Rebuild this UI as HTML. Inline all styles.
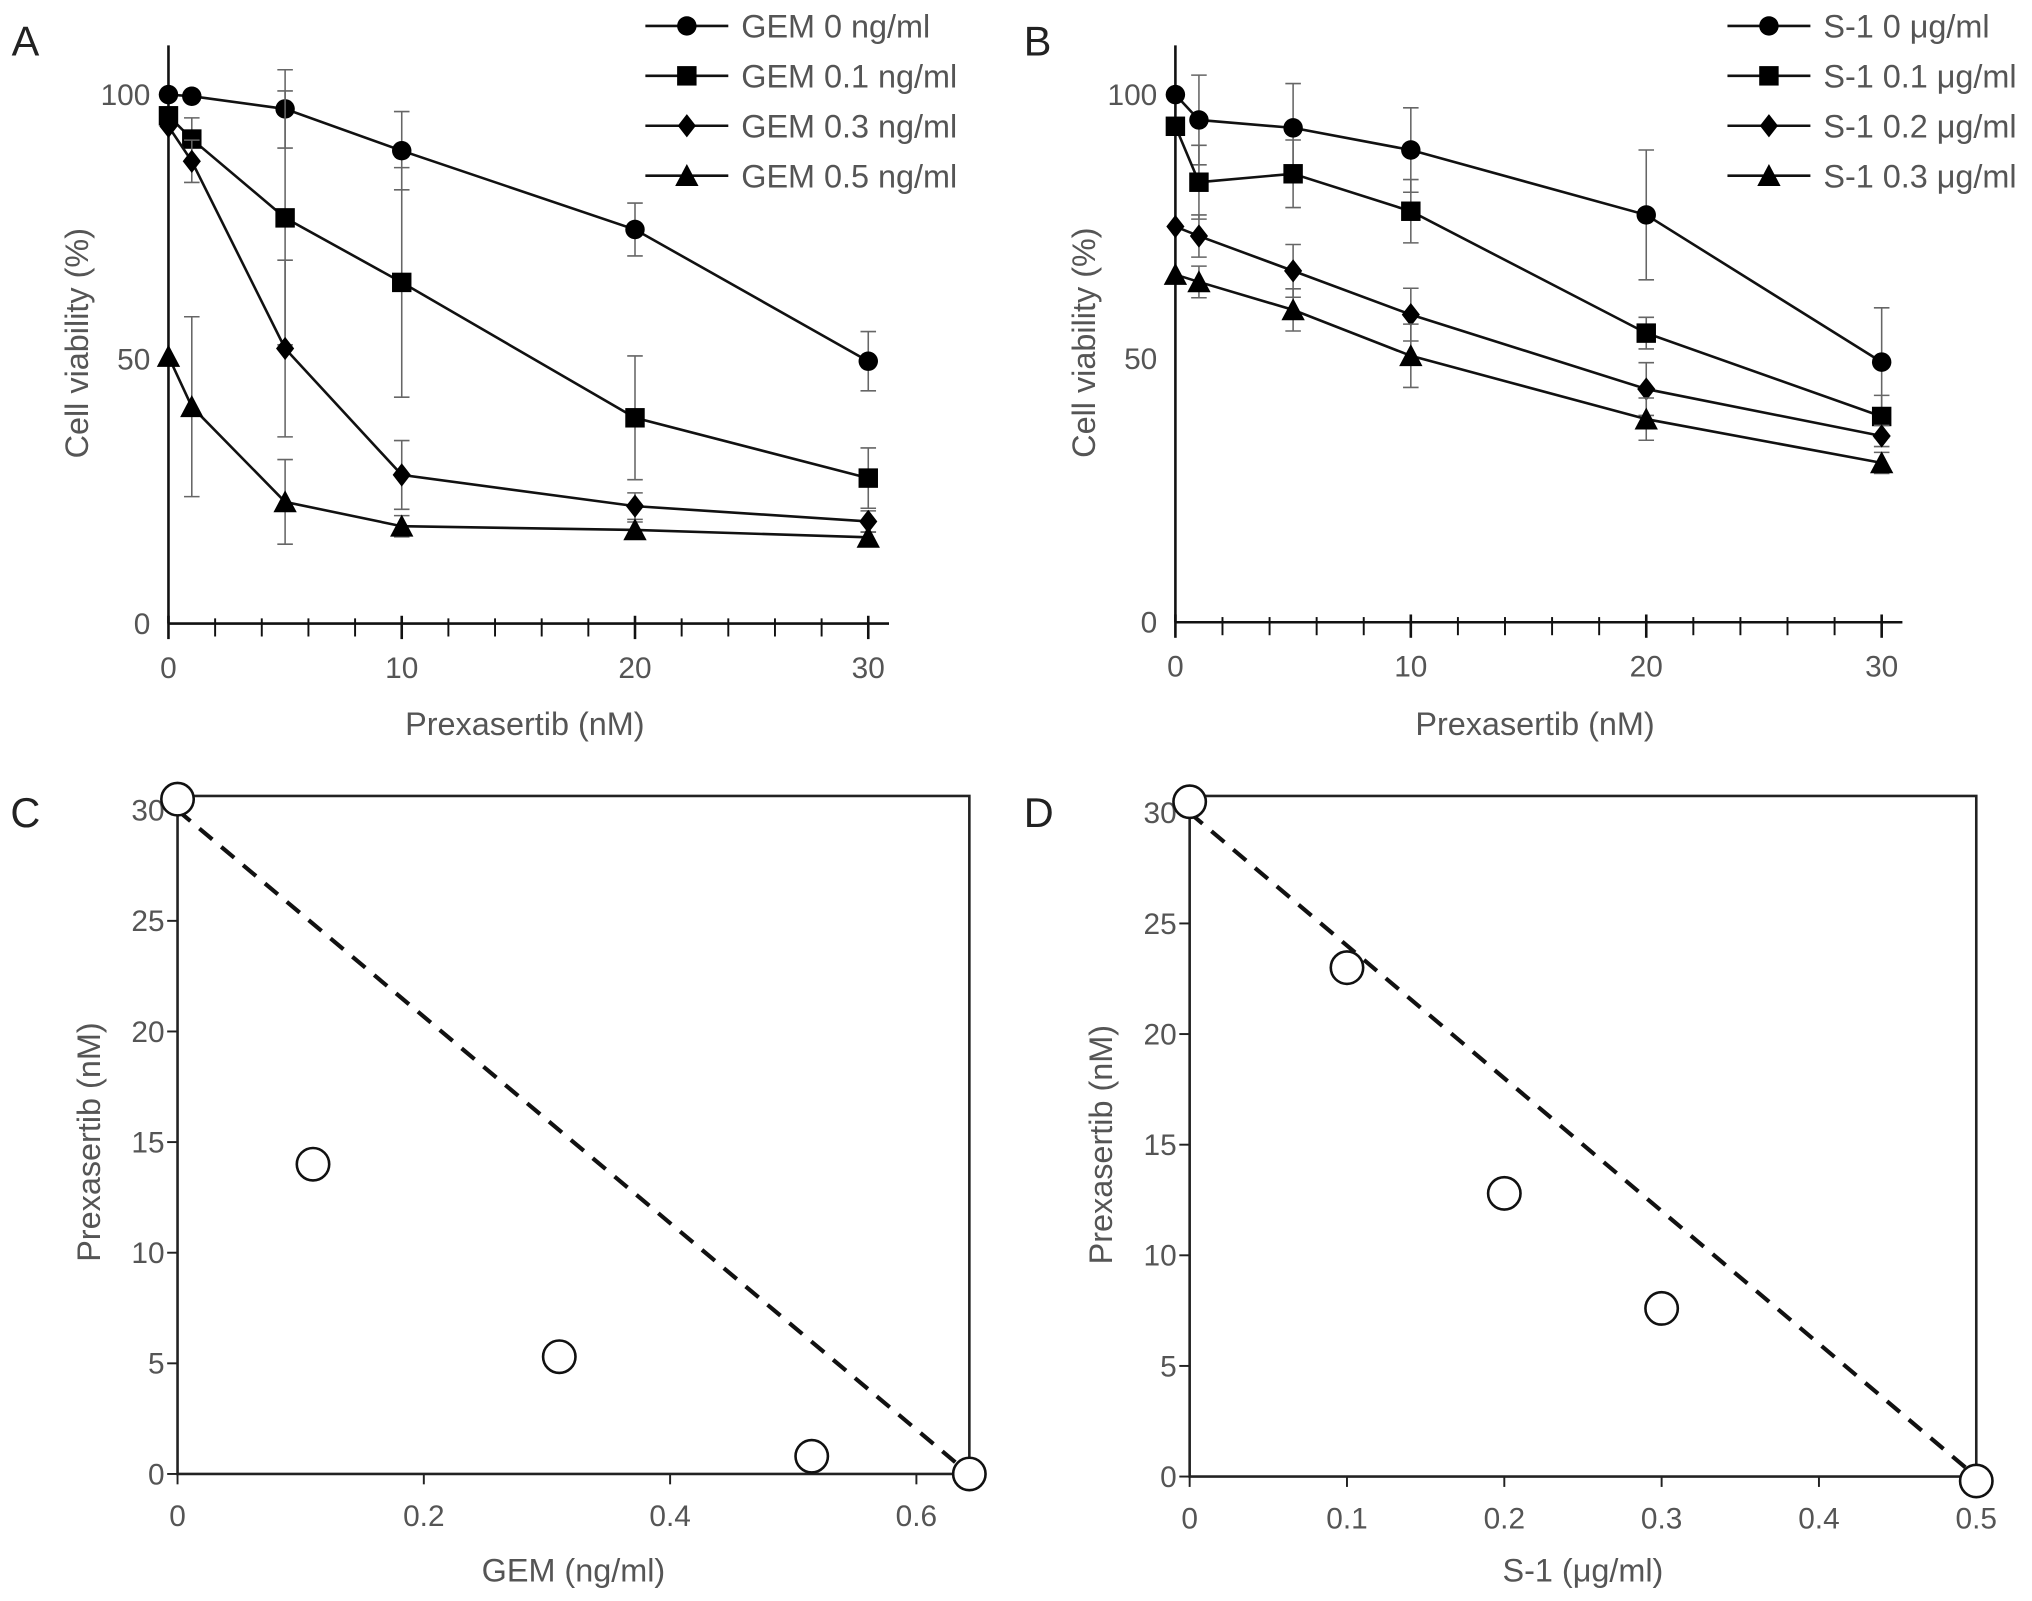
<!DOCTYPE html>
<html><head><meta charset="utf-8"><style>
html,body{margin:0;padding:0;background:#fff;}
svg{display:block;}
text{font-family:"Liberation Sans",sans-serif;}
</style></head><body>
<svg id="fig" width="2032" height="1601" viewBox="0 0 1568 1235" preserveAspectRatio="none" xmlns="http://www.w3.org/2000/svg">
<rect width="1568" height="1235" fill="#fff"/>
<g id="root"></g>
</svg>
<script>
// ---- Panel A data ----
const xDoses = [0, 1, 5, 10, 20, 30];
const gemLabels = ["GEM 0 ng/ml", "GEM 0.1 ng/ml", "GEM 0.3 ng/ml", "GEM 0.5 ng/ml"];
const gem0 = [100, 99.7, 97.3, 89.4, 74.5, 49.6];
const gem0Err = [0, 0, 7.4, 7.4, 5, 5.6];
const gem01 = [96, 91.6, 76.7, 64.5, 38.9, 27.5];
const gem01Err = [0, 4, 24, 21.7, 11.7, 5.7];
const gem03 = [94, 87.4, 52, 28.1, 22.2, 19.3];
const gem03Err = [0, 4, 16.7, 6.5, 2.5, 2];
const gem05 = [50.5, 41, 23, 18.4, 17.7, 16.3];
const gem05Err = [0, 17, 8, 2, 1.5, 1];
// ---- Panel B data ----
const s1Labels = ["S-1 0 \u03bcg/ml", "S-1 0.1 \u03bcg/ml", "S-1 0.2 \u03bcg/ml", "S-1 0.3 \u03bcg/ml"];
const s10 = [100, 95.2, 93.7, 89.5, 77.2, 49.3];
const s10Err = [0, 8.5, 8.4, 8, 12.3, 10.3];
const s101 = [94, 83.4, 85, 77.9, 54.8, 39];
const s101Err = [0, 7, 6.4, 6, 3, 4];
const s102 = [75, 73.2, 66.6, 58.3, 44.2, 35.3];
const s102Err = [0, 4, 5, 5, 5, 2];
const s103 = [65.9, 64.5, 59.2, 50.5, 38.5, 30.2];
const s103Err = [0, 3, 4, 6, 4, 2];
const viabTicks = [0, 50, 100];
const doseTicks = [0, 10, 20, 30];
// ---- Panel C data ----
const gemIso = [0, 0.11, 0.31, 0.515, 0.643];
const prexIsoC = [30.5, 14, 5.3, 0.8, 0];
const gemTicks = [0, 0.2, 0.4, 0.6];
// ---- Panel D data ----
const s1Iso = [0, 0.1, 0.2, 0.3, 0.5];
const prexIsoD = [30.5, 23, 12.8, 7.6, -0.2];
const s1Ticks = [0, 0.1, 0.2, 0.3, 0.4, 0.5];
const prexTicks = [0, 5, 10, 15, 20, 25, 30];

const NS = "http://www.w3.org/2000/svg";
const root = document.getElementById("root");
function mk(tag, attrs, parent) {
  const e = document.createElementNS(NS, tag);
  for (const k in attrs) e.setAttribute(k, attrs[k]);
  (parent || root).appendChild(e);
  return e;
}
function txt(s, x, y, size, fill, anchor, parent, name) {
  const t = mk("text", {x: x, y: y, "font-size": size, fill: fill, "text-anchor": anchor || "middle"}, parent);
  t.textContent = s;
  
  
  return t;
}
function marker(shape, cx, cy, g) {
  let e;
  if (shape === 0) e = mk("circle", {cx: cx, cy: cy, r: 7.5, fill: "#000"}, g);
  else if (shape === 1) e = mk("rect", {x: cx - 7.5, y: cy - 7.5, width: 15, height: 15, fill: "#000"}, g);
  else if (shape === 2) e = mk("polygon", {points: `${cx},${cy-9} ${cx+7},${cy} ${cx},${cy+9} ${cx-7},${cy}`, fill: "#000"}, g);
  else e = mk("polygon", {points: `${cx},${cy-9} ${cx+9},${cy+8} ${cx-9},${cy+8}`, fill: "#000"}, g);
  
  
  return e;
}

function linePanel(opt) {
  const g = mk("g", {});
  
  
  const sx = v => opt.x0 + (v / 30) * (opt.x30 - opt.x0);
  const sy = v => opt.y0 - (v / 100) * (opt.y0 - opt.y100);
  const ya = mk("line", {x1: opt.x0, y1: 35, x2: opt.x0, y2: opt.y0, stroke: "#111", "stroke-width": 2}, g);
  
  
  const xa = mk("line", {x1: opt.x0, y1: opt.y0, x2: opt.x30 + 16, y2: opt.y0, stroke: "#111", "stroke-width": 2}, g);
  
  
  for (let v = 0; v <= 30; v += 2) {
    const t = mk("line", {x1: sx(v), y1: opt.y0 - 4, x2: sx(v), y2: opt.y0 + 10, stroke: "#111", "stroke-width": 1.5}, g);
    
    
  }
  doseTicks.forEach(v => {
    const t = mk("line", {x1: sx(v), y1: opt.y0 - 6, x2: sx(v), y2: opt.y0 + 12, stroke: "#111", "stroke-width": 2}, g);
    
    
    txt(String(v), sx(v), opt.y0 + 42, 23, "#555", "middle", g, "x-tick-label");
  });
  viabTicks.forEach(v => txt(String(v), opt.x0 - 14, sy(v) + 8, 23, "#555", "end", g, "y-tick-label"));
  const yl = txt("Cell viability (%)", 0, 0, 25, "#555", "middle", g, "y-axis-title");
  yl.setAttribute("transform", `translate(${opt.x0 - 62},${sy(53)}) rotate(-90)`);
  txt("Prexasertib (nM)", (opt.x0 + opt.x30) / 2 + 5, 567, 25, "#555", "middle", g, "x-axis-title");
  txt(opt.letter, opt.letterX, 43, 32, "#222", "start", g, "panel-letter");
  opt.series.forEach((s, i) => {
    const sg = mk("g", {}, g);
    
    
    xDoses.forEach((x, j) => {
      const e = s.err[j];
      if (!e) return;
      const cx = sx(x), a = sy(s.v[j] + e), b = sy(s.v[j] - e);
      const eb = mk("path", {d: `M${cx},${a}V${b}M${cx-6},${a}H${cx+6}M${cx-6},${b}H${cx+6}`, stroke: "#666", "stroke-width": 1.2, fill: "none"}, sg);
      
      
    });
    const pts = xDoses.map((x, j) => sx(x) + "," + sy(s.v[j])).join(" ");
    const pl = mk("polyline", {points: pts, fill: "none", stroke: "#111", "stroke-width": 2}, sg);
    
    
    xDoses.forEach((x, j) => marker(i, sx(x), sy(s.v[j]), sg));
    const lg = mk("g", {}, g);
    
    
    const ly = 20 + i * 38.5;
    mk("line", {x1: opt.legX, y1: ly, x2: opt.legX + 64, y2: ly, stroke: "#111", "stroke-width": 2}, lg);
    marker(i, opt.legX + 32, ly, lg);
    txt(opt.labels[i], opt.legX + 74, ly + 9, 25, "#555", "start", lg, "legend-label");
  });
}

linePanel({name: "panel-a-chart", letter: "A", letterX: 9, x0: 130, x30: 670, y0: 481, y100: 73, legX: 498, labels: gemLabels,
  series: [{v: gem0, err: gem0Err}, {v: gem01, err: gem01Err}, {v: gem03, err: gem03Err}, {v: gem05, err: gem05Err}]});
linePanel({name: "panel-b-chart", letter: "B", letterX: 790, x0: 907, x30: 1452, y0: 480, y100: 73, legX: 1333, labels: s1Labels,
  series: [{v: s10, err: s10Err}, {v: s101, err: s101Err}, {v: s102, err: s102Err}, {v: s103, err: s103Err}]});

function isoPanel(opt) {
  const g = mk("g", {});
  
  
  const sx = v => opt.left + (v / opt.xmax) * (opt.right - opt.left);
  const sy = v => opt.y0 - (v / 30) * (opt.y0 - opt.y30);
  const box = mk("rect", {x: opt.left, y: opt.top, width: opt.right - opt.left, height: opt.y0 - opt.top, fill: "none", stroke: "#222", "stroke-width": 2}, g);
  
  
  opt.xTicks.forEach(v => {
    const t = mk("line", {x1: sx(v), y1: opt.y0, x2: sx(v), y2: opt.y0 + 8, stroke: "#222", "stroke-width": 1.5}, g);
    
    
    txt(String(v), sx(v), opt.y0 + 40, 23, "#555", "middle", g, "x-tick-label");
  });
  prexTicks.forEach(v => {
    const t = mk("line", {x1: opt.left - 8, y1: sy(v), x2: opt.left, y2: sy(v), stroke: "#222", "stroke-width": 1.5}, g);
    
    
    txt(String(v), opt.left - 10, sy(v) + 8, 23, "#555", "end", g, "y-tick-label");
  });
  const yl = txt("Prexasertib (nM)", 0, 0, 25, "#555", "middle", g, "y-axis-title");
  yl.setAttribute("transform", `translate(${opt.left - 60},${sy(15)}) rotate(-90)`);
  txt(opt.xTitle, (opt.left + opt.right) / 2, 1220, 25, "#555", "middle", g, "x-axis-title");
  txt(opt.letter, opt.letterX, 638, 32, "#222", "start", g, "panel-letter");
  const n = opt.xs.length - 1;
  const dl = mk("line", {x1: sx(opt.xs[0]), y1: sy(30), x2: sx(opt.xs[n]), y2: sy(0), stroke: "#111", "stroke-width": 3.2, "stroke-dasharray": "13 9"}, g);
  
  
  opt.xs.forEach((x, j) => {
    const c = mk("circle", {cx: sx(x), cy: sy(opt.ys[j]), r: 12.5, fill: "#fff", stroke: "#111", "stroke-width": 2}, g);
    
    
  });
}
isoPanel({name: "panel-c-chart", letter: "C", letterX: 8, left: 137, right: 748, top: 614, y0: 1137, y30: 625, xmax: 0.643,
  xs: gemIso, ys: prexIsoC, xTicks: gemTicks, xTitle: "GEM (ng/ml)"});
isoPanel({name: "panel-d-chart", letter: "D", letterX: 790, left: 918, right: 1525, top: 614, y0: 1139, y30: 627, xmax: 0.5,
  xs: s1Iso, ys: prexIsoD, xTicks: s1Ticks, xTitle: "S-1 (\u03bcg/ml)"});
</script>
</body></html>
